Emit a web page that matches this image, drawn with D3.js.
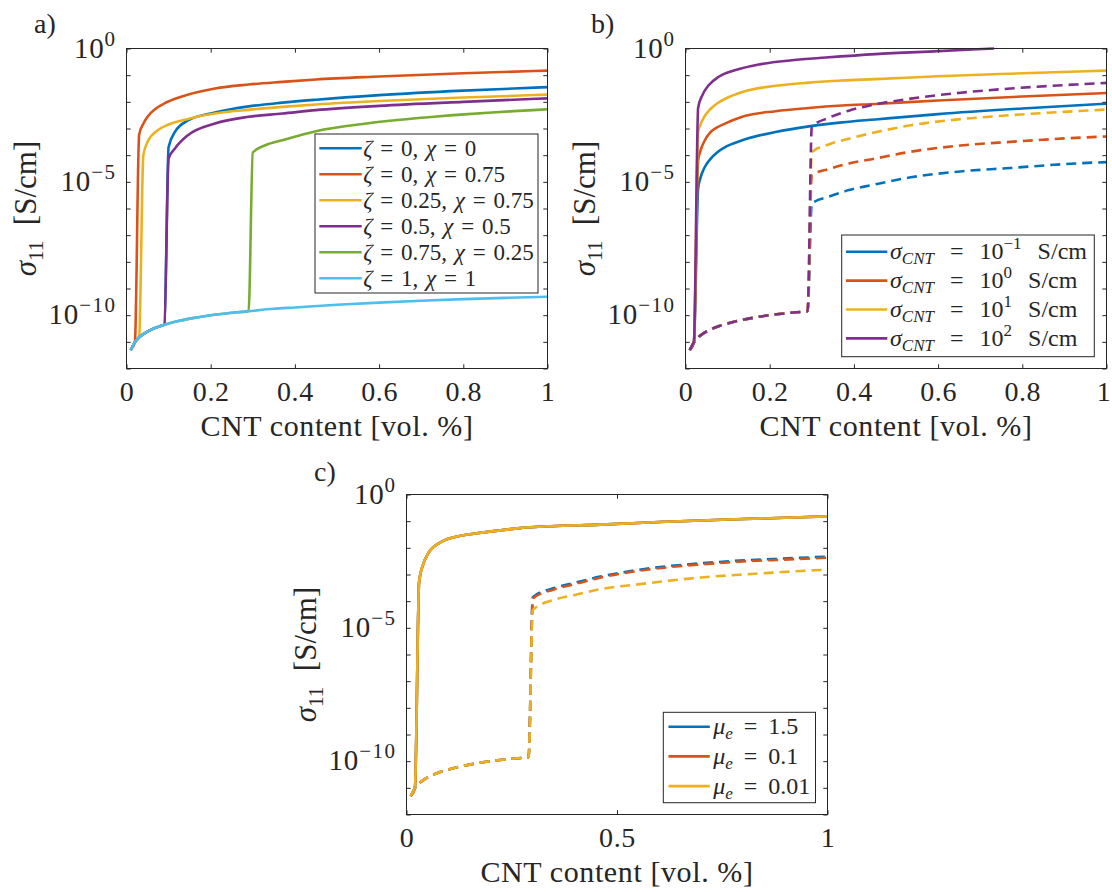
<!DOCTYPE html>
<html>
<head>
<meta charset="utf-8">
<script src="https://cdn.jsdelivr.net/npm/d3@7"></script>
<style>
    body { margin: 0; background: #fff; }
    svg text { font-family: "Liberation Serif", "Times New Roman", serif; fill: #262626; white-space: pre; }
</style>
</head>
<body>
<svg id="chart" width="1112" height="892"></svg>
<script>
(function () {
    // MATLAB default line colours
    const colors = ['#0072BD', '#D95319', '#EDB120', '#7E2F8E', '#77AC30', '#4DBEEE'];

    // ticks
    const xTicksAB = [0, 0.2, 0.4, 0.6, 0.8, 1];
    const xTicksC = [0, 0.5, 1];
    const yDecades = [-12, -11, -10, -9, -8, -7, -6, -5, -4, -3, -2, -1, 0];
    const yLabelled = [0, -5, -10];

    // legend entries
    const aZeta = ['0', '0', '0.25', '0.5', '0.75', '1'];
    const aChi = ['0', '0.75', '0.75', '0.5', '0.25', '1'];
    const bSigmaExp = ['\u22121', '0', '1', '2'];
    const cMu = ['1.5', '0.1', '0.01'];

    // all values are log10(sigma_11 [S/cm])
    // non-percolated part shared by several curves
    const baseX = [0.01, 0.02, 0.03, 0.04, 0.06, 0.08, 0.10, 0.12, 0.15, 0.20, 0.25, 0.29];
    const baseLog = [-11.31, -11.01, -10.83, -10.71, -10.53, -10.41, -10.31, -10.23, -10.13, -10.00, -9.91, -9.85];

    // panel a
    const aSkyX = [...baseX, 0.35, 0.40, 0.50, 0.60, 0.70, 0.80, 0.90, 1.00];
    const aSkyLog = [...baseLog, -9.76, -9.71, -9.61, -9.53, -9.46, -9.40, -9.35, -9.31];
    const aOrangeX = [0.01, 0.02, 0.03, 0.04, 0.05, 0.07, 0.09, 0.13, 0.21, 0.29, 0.37, 0.45, 0.60, 0.80, 1.00];
    const aOrangeLog = [-11.31, -11.01, -3.23, -2.82, -2.56, -2.25, -2.06, -1.81, -1.50, -1.35, -1.25, -1.16, -1.05, -0.93, -0.83];
    const aYellowX = [0.01, 0.02, 0.03, 0.04, 0.05, 0.075, 0.10, 0.146, 0.21, 0.29, 0.37, 0.45, 0.60, 0.80, 1.00];
    const aYellowLog = [-11.31, -11.01, -10.83, -4.00, -3.50, -3.06, -2.85, -2.64, -2.44, -2.30, -2.19, -2.10, -1.97, -1.84, -1.73];
    const aBlueX = [0.01, 0.02, 0.03, 0.04, 0.06, 0.08, 0.09, 0.10, 0.115, 0.146, 0.21, 0.29, 0.37, 0.45, 0.60, 0.80, 1.00];
    const aBlueLog = [-11.31, -11.01, -10.83, -10.71, -10.53, -10.41, -10.35, -3.69, -3.13, -2.70, -2.40, -2.17, -2.03, -1.92, -1.75, -1.58, -1.45];
    const aPurpleX = [0.01, 0.02, 0.03, 0.04, 0.06, 0.08, 0.09, 0.10, 0.115, 0.146, 0.21, 0.29, 0.37, 0.45, 0.60, 0.80, 1.00];
    const aPurpleLog = [-11.31, -11.01, -10.83, -10.71, -10.53, -10.41, -10.35, -4.13, -3.75, -3.25, -2.81, -2.56, -2.44, -2.31, -2.15, -2.00, -1.87];
    const aGreenX = [...baseX, 0.30, 0.33, 0.37, 0.45, 0.57, 0.73, 0.92, 1.00];
    const aGreenLog = [...baseLog, -3.90, -3.63, -3.44, -3.10, -2.81, -2.56, -2.35, -2.28];

    // panel b, solid
    const bSolidX = [0.01, 0.02, 0.03, 0.035, 0.045, 0.06, 0.075, 0.095, 0.135, 0.214, 0.293, 0.372, 0.451, 0.60, 0.80, 1.00];
    const bBlueLog = [-11.31, -11.01, -5.25, -4.88, -4.47, -4.13, -3.90, -3.69, -3.44, -3.13, -2.92, -2.77, -2.66, -2.46, -2.25, -2.07];
    const bOrangeLog = [-11.31, -11.01, -4.19, -3.86, -3.47, -3.13, -2.96, -2.81, -2.56, -2.35, -2.23, -2.14, -2.08, -1.95, -1.80, -1.67];
    const bYellowLog = [-11.31, -11.01, -3.13, -2.88, -2.55, -2.26, -2.06, -1.88, -1.63, -1.40, -1.28, -1.20, -1.15, -1.04, -0.93, -0.83];
    const bPurpleX = [0.01, 0.02, 0.03, 0.04, 0.055, 0.079, 0.119, 0.174, 0.253, 0.333, 0.451, 0.60, 0.733];
    const bPurpleLog = [-11.31, -11.01, -2.23, -1.75, -1.38, -1.06, -0.81, -0.60, -0.44, -0.34, -0.21, -0.10, 0.00];
    // panel b, dashed
    const bDashX = [...baseX, 0.30, 0.34, 0.388, 0.443, 0.535, 0.653, 0.772, 0.927, 1.00];
    const bBlueDashLog = [...baseLog, -5.81, -5.56, -5.31, -5.12, -4.83, -4.61, -4.48, -4.31, -4.26];
    const bOrangeDashLog = [...baseLog, -4.75, -4.52, -4.31, -4.15, -3.87, -3.64, -3.50, -3.35, -3.30];
    const bYellowDashLog = [...baseLog, -3.88, -3.60, -3.38, -3.17, -2.88, -2.65, -2.50, -2.35, -2.29];
    const bPurpleDashLog = [...baseLog, -2.94, -2.60, -2.33, -2.12, -1.88, -1.66, -1.50, -1.35, -1.29];

    // panel c (the three solid curves coincide)
    const cSolidX = [0.01, 0.02, 0.03, 0.04, 0.05, 0.08, 0.128, 0.184, 0.263, 0.342, 0.46, 0.60, 0.80, 1.00];
    const cSolidLog = [-11.31, -11.01, -3.26, -2.60, -2.25, -1.80, -1.55, -1.42, -1.27, -1.19, -1.13, -1.03, -0.92, -0.82];
    const cDashX = [...baseX, 0.30, 0.35, 0.40, 0.46, 0.54, 0.62, 0.70, 0.79, 0.87, 0.97, 1.00];
    const cBlueDashLog = [...baseLog, -3.85, -3.51, -3.31, -3.08, -2.85, -2.69, -2.58, -2.48, -2.42, -2.35, -2.33];
    const cOrangeDashLog = [...baseLog, -3.90, -3.56, -3.36, -3.12, -2.89, -2.73, -2.62, -2.52, -2.46, -2.39, -2.37];
    const cYellowDashLog = [...baseLog, -4.33, -3.95, -3.77, -3.55, -3.39, -3.24, -3.11, -3.01, -2.93, -2.84, -2.82];

    const W = 421, H = 320, tickLen = 4.2, lineW = 2.6;
    const axisColor = '#262626';
    const svg = d3.select('#chart');
    svg.append('rect').attr('width', 1112).attr('height', 892).attr('fill', '#fff');

    function labelA(i) {
        return function (t) {
            t.append('tspan').attr('font-style', 'italic').text('\u03b6');
            t.append('tspan').text(' = ' + aZeta[i] + ', ');
            t.append('tspan').attr('font-style', 'italic').text('\u03c7');
            t.append('tspan').text(' = ' + aChi[i]);
        };
    }
    function labelB(i) {
        return function (t) {
            t.append('tspan').attr('font-style', 'italic').text('\u03c3');
            t.append('tspan').attr('font-style', 'italic').attr('font-size', 17).attr('dy', 5).text('CNT');
            t.append('tspan').attr('dy', -5).text(' = 10');
            t.append('tspan').attr('font-size', 17).attr('dy', -10).text(bSigmaExp[i]);
            t.append('tspan').attr('dy', 10).text(' S/cm');
        };
    }
    function labelC(i) {
        return function (t) {
            t.append('tspan').attr('font-style', 'italic').text('\u03bc');
            t.append('tspan').attr('font-style', 'italic').attr('font-size', 17).attr('dy', 5).text('e');
            t.append('tspan').attr('dy', -5).text(' = ' + cMu[i]);
        };
    }

    function drawPanel(p) {
        const x = d3.scaleLinear().domain([0, 1]).range([0, W]);
        const y = d3.scaleLog().domain([1e-12, 1]).range([H, 0]);
        const g = svg.append('g').attr('transform', `translate(${p.left},${p.top})`);

        g.append('clipPath').attr('id', 'clip-' + p.name)
            .append('rect').attr('x', -2).attr('y', -2).attr('width', W + 4).attr('height', H + 4);

        const line = d3.line()
            .x(d => x(d[0]))
            .y(d => y(Math.pow(10, d[1])))
            .curve(d3.curveMonotoneX);

        g.append('g').attr('clip-path', `url(#clip-${p.name})`)
            .selectAll('path')
            .data(p.series)
            .join('path')
            .attr('d', s => line(d3.zip(s.x, s.log)))
            .attr('fill', 'none')
            .attr('stroke', s => s.color)
            .attr('stroke-width', lineW)
            .attr('stroke-dasharray', s => s.dashed ? '10,6' : null);

        // ticks on all four sides, pointing inwards
        const styleAxis = a => {
            a.attr('color', axisColor).attr('font-family', null).attr('font-size', 28);
            a.select('.domain').remove();
        };
        g.append('g').attr('transform', `translate(0,${H})`)
            .call(d3.axisBottom(x).tickValues(p.xTicks).tickSize(-tickLen).tickPadding(13).tickFormat(d => String(d)))
            .call(styleAxis)
            .selectAll('text')
            .attr('letter-spacing', 0.6)
            // last label of the right-hand panel sits at the page edge
            .attr('dx', d => (d === 1 && p.left + W > 1100) ? -3 : null);
        g.append('g')
            .call(d3.axisTop(x).tickValues(p.xTicks).tickSize(-tickLen).tickFormat(''))
            .call(styleAxis);
        g.append('g')
            .call(d3.axisLeft(y).tickValues(yDecades.map(e => Math.pow(10, e))).tickSize(-tickLen).tickFormat(''))
            .call(styleAxis);
        g.append('g').attr('transform', `translate(${W},0)`)
            .call(d3.axisRight(y).tickValues(yDecades.map(e => Math.pow(10, e))).tickSize(-tickLen).tickFormat(''))
            .call(styleAxis);
        g.append('rect').attr('width', W).attr('height', H)
            .attr('fill', 'none').attr('stroke', axisColor).attr('stroke-width', 1);

        // 10^n labels
        yLabelled.forEach(e => {
            const t = g.append('text')
                .attr('x', -10)
                .attr('y', y(Math.pow(10, e)) + 9)
                .attr('text-anchor', 'end')
                .attr('font-size', 29);
            t.append('tspan').attr('letter-spacing', 0.8).text('10');
            t.append('tspan').attr('font-size', 21).attr('letter-spacing', 1.5).attr('dy', -12)
                .text(e === 0 ? '0' : '\u2212' + (-e));
        });

        g.append('text')
            .attr('x', W / 2).attr('y', H + 67)
            .attr('text-anchor', 'middle').attr('font-size', 30).attr('letter-spacing', 0.6)
            .text('CNT content [vol. %]');

        const yl = g.append('text')
            .attr('transform', `translate(-91,${H / 2}) rotate(-90)`)
            .attr('text-anchor', 'middle').attr('font-size', 31);
        yl.append('tspan').attr('font-style', 'italic').text('\u03c3');
        yl.append('tspan').attr('font-size', 21).attr('dy', 7).text('11');
        yl.append('tspan').attr('dy', -7).text('  [S/cm]');

        svg.append('text')
            .attr('x', p.tag[0]).attr('y', p.tag[1])
            .attr('font-size', 28).attr('fill', '#000')
            .text(p.tag[2]);

        // legend
        const L = p.legend;
        const lg = g.append('g').attr('transform', `translate(${L.x},${L.y})`);
        lg.append('rect').attr('width', L.w).attr('height', L.h)
            .attr('fill', '#fff').attr('stroke', axisColor).attr('stroke-width', 1);
        p.series.filter(s => s.label).forEach((s, i) => {
            const cy = L.first + i * L.step;
            lg.append('line')
                .attr('x1', L.line[0]).attr('x2', L.line[1])
                .attr('y1', cy).attr('y2', cy)
                .attr('stroke', s.color).attr('stroke-width', lineW);
            const t = lg.append('text')
                .attr('x', L.textX).attr('y', cy + 7.5)
                .attr('font-size', L.font)
                .attr('word-spacing', L.wordSpacing);
            s.label(t);
        });
    }

    drawPanel({
        name: 'a', left: 126.5, top: 48.5, xTicks: xTicksAB, tag: [34, 33, 'a)'],
        legend: { x: 188.5, y: 85.5, w: 223, h: 159, first: 14.3, step: 26, line: [4.3, 46.7], textX: 48.3, font: 23, wordSpacing: 2 },
        series: [
            { x: aBlueX, log: aBlueLog, color: colors[0], label: labelA(0) },
            { x: aOrangeX, log: aOrangeLog, color: colors[1], label: labelA(1) },
            { x: aYellowX, log: aYellowLog, color: colors[2], label: labelA(2) },
            { x: aPurpleX, log: aPurpleLog, color: colors[3], label: labelA(3) },
            { x: aGreenX, log: aGreenLog, color: colors[4], label: labelA(4) },
            { x: aSkyX, log: aSkyLog, color: colors[5], label: labelA(5) }
        ]
    });

    drawPanel({
        name: 'b', left: 685.5, top: 48.5, xTicks: xTicksAB, tag: [591, 33, 'b)'],
        legend: { x: 156.2, y: 186.5, w: 252.6, h: 121.7, first: 16.7, step: 28.9, line: [4.3, 45.6], textX: 48.3, font: 24, wordSpacing: 10 },
        series: [
            { x: bSolidX, log: bBlueLog, color: colors[0], label: labelB(0) },
            { x: bSolidX, log: bOrangeLog, color: colors[1], label: labelB(1) },
            { x: bSolidX, log: bYellowLog, color: colors[2], label: labelB(2) },
            { x: bPurpleX, log: bPurpleLog, color: colors[3], label: labelB(3) },
            { x: bDashX, log: bBlueDashLog, color: colors[0], dashed: true },
            { x: bDashX, log: bOrangeDashLog, color: colors[1], dashed: true },
            { x: bDashX, log: bYellowDashLog, color: colors[2], dashed: true },
            { x: bDashX, log: bPurpleDashLog, color: colors[3], dashed: true }
        ]
    });

    drawPanel({
        name: 'c', left: 406.5, top: 494.5, xTicks: xTicksC, tag: [314, 481, 'c)'],
        legend: { x: 256.8, y: 217.8, w: 152.2, h: 90.4, first: 14.4, step: 29.7, line: [5.2, 46.5], textX: 49.9, font: 24, wordSpacing: 5 },
        series: [
            { x: cSolidX, log: cSolidLog, color: colors[0], label: labelC(0) },
            { x: cSolidX, log: cSolidLog, color: colors[1], label: labelC(1) },
            { x: cSolidX, log: cSolidLog, color: colors[2], label: labelC(2) },
            { x: cDashX, log: cBlueDashLog, color: colors[0], dashed: true },
            { x: cDashX, log: cOrangeDashLog, color: colors[1], dashed: true },
            { x: cDashX, log: cYellowDashLog, color: colors[2], dashed: true }
        ]
    });
})();
</script>
</body>
</html>
